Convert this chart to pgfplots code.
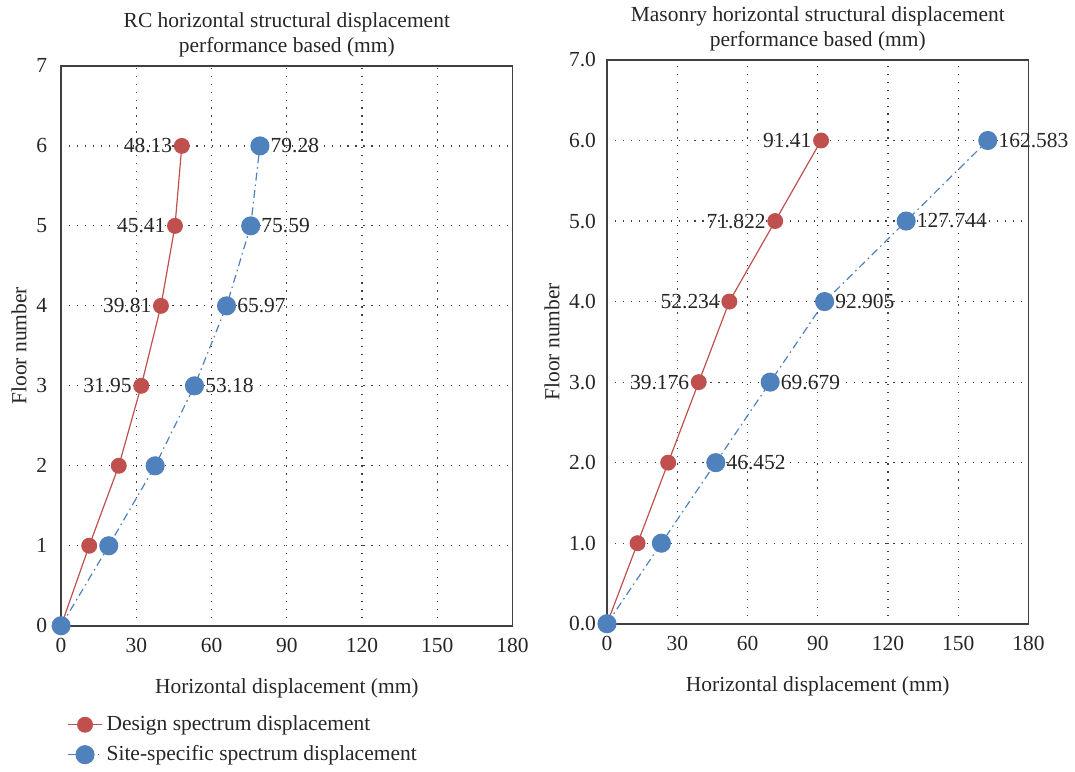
\documentclass[border=0pt]{standalone}
\usepackage{fontspec}
\setmainfont{Liberation Serif}
\usepackage{pgfplots}
\usepackage{pgfplotstable}
\pgfplotsset{compat=1.18}
\definecolor{dred}{HTML}{C0504D}
\definecolor{dblue}{HTML}{4F81BD}
\definecolor{txt}{HTML}{262626}
\definecolor{axc}{HTML}{404040}

\pgfplotstableread{
x y lab
0 0 {}
11.2 1 {}
23.0 2 {}
31.95 3 31.95
39.81 4 39.81
45.41 5 45.41
48.13 6 48.13
}\rcdesign
\pgfplotstableread{
x y lab
0 0 {}
19.0 1 {}
37.5 2 {}
53.18 3 53.18
65.97 4 65.97
75.59 5 75.59
79.28 6 79.28
}\rcsite
\pgfplotstableread{
x y lab
0 0 {}
13.059 1 {}
26.117 2 {}
39.176 3 39.176
52.234 4 52.234
71.822 5 71.822
91.41 6 91.41
}\madesign
\pgfplotstableread{
x y lab
0 0 {}
23.226 1 {}
46.452 2 46.452
69.679 3 69.679
92.905 4 92.905
127.744 5 127.744
162.583 6 162.583
}\masite

\begin{document}
\begin{tikzpicture}[font=\fontsize{10.8}{13}\selectfont]
\pgfplotsset{
  common/.style={
    scale only axis,
    xmin=0,xmax=180, ymin=0,ymax=7,
    xtick={0,30,...,180},
    ytick={0,...,7},
    grid=major,
    major grid style={axc, line width=0.6pt, dash pattern=on 0.6pt off 3.4pt},
    axis line style={axc, line width=0.8pt},
    major tick length=0pt,
    tick label style={font=\fontsize{10.8}{13}\selectfont, text=txt},
    xticklabel style={yshift=-2.5pt},
    label style={font=\fontsize{10.8}{13}\selectfont, text=txt},
    /pgf/number format/assume math mode=true,
    xlabel={Horizontal displacement (mm)},
    ylabel={Floor number},
    xlabel style={yshift=-6.5pt},
    ylabel style={yshift=-2pt},
    title style={align=center, font=\fontsize{10.8}{12.5}\selectfont, text=txt, yshift=-5pt},
    clip=false,
    point meta=explicit symbolic,
  },
  dsty/.style={dred, line width=0.6pt, mark=*, mark size=3.7pt, mark options={solid, fill=dred, draw=dred},
    nodes near coords={\pgfplotspointmeta}, nodes near coords align={anchor=east},
    every node near coord/.append style={text=txt, xshift=-1.2pt, font=\fontsize{10.8}{13}\selectfont}},
  ssty/.style={dblue, line width=0.6pt, dash pattern=on 4pt off 2pt on 0.8pt off 2pt, mark=*, mark size=4.5pt, mark options={solid, fill=dblue, draw=dblue},
    nodes near coords={\pgfplotspointmeta}, nodes near coords align={anchor=west},
    every node near coord/.append style={text=txt, xshift=1.8pt, font=\fontsize{10.8}{13}\selectfont}},
}
\begin{axis}[common,
  width=227pt, height=281.5pt,
  yticklabel style={xshift=-3.5pt},
  title={RC horizontal structural displacement\\performance based (mm)},
  legend style={at={(0,-0.146)}, anchor=north west, draw=none, fill=none,
    font=\fontsize{10.8}{13}\selectfont, text=txt, row sep=2pt, legend cell align=left},
]
\addplot[dsty] table[x=x,y=y,meta=lab] {\rcdesign};
\addlegendentry{Design spectrum displacement}
\addplot[ssty] table[x=x,y=y,meta=lab] {\rcsite};
\addlegendentry{Site-specific spectrum displacement}
\end{axis}
\begin{axis}[common, at={(274.5pt,1pt)},
  width=212pt, height=283.5pt,
  title={Masonry horizontal structural displacement\\performance based (mm)},
  yticklabel style={xshift=-2pt, /pgf/number format/.cd, fixed, fixed zerofill, precision=1},
]
\addplot[dsty] table[x=x,y=y,meta=lab] {\madesign};
\addplot[ssty] table[x=x,y=y,meta=lab] {\masite};
\end{axis}
\path (current bounding box.south west) ++(-2.5pt,0pt);
\end{tikzpicture}
\end{document}
